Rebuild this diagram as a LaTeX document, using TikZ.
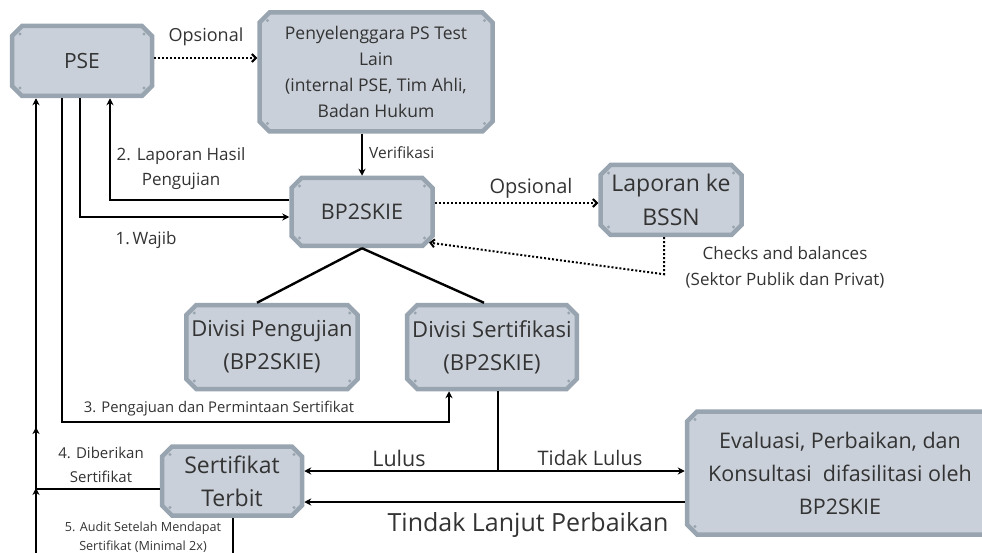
\documentclass[tikz,border=0pt]{standalone}
\usepackage{fontspec}
\setmainfont{Open Sans}
\usepackage{xcolor}
\usetikzlibrary{arrows.meta}
\usetikzlibrary{shapes.misc}
\usetikzlibrary{decorations.markings}

\definecolor{boxfill}{HTML}{C9D0D9}
\definecolor{boxline}{HTML}{98A4B0}
\definecolor{txt}{HTML}{333333}

\newcommand{\fsz}[2]{\fontsize{#1}{#2}\selectfont}

\begin{document}
\begin{tikzpicture}[
        x=1pt, y=-1pt,
        box/.style={chamfered rectangle, chamfered rectangle xsep=5pt,
            chamfered rectangle ysep=5pt, draw=boxline, fill=boxfill,
            line width=4.5pt, inner sep=0pt, align=center, text=txt,
            path picture={
                \fill[boxline] ([shift={(8pt,-8pt)}]path picture bounding box.north west) circle (1.6pt);
                \fill[boxline] ([shift={(-8pt,-8pt)}]path picture bounding box.north east) circle (1.6pt);
                \fill[boxline] ([shift={(8pt,8pt)}]path picture bounding box.south west) circle (1.6pt);
                \fill[boxline] ([shift={(-8pt,8pt)}]path picture bounding box.south east) circle (1.6pt);
            }},
        link/.style={-{Stealth[length=7pt,width=7pt]}, line width=2.4pt},
        optlink/.style={-{Straight Barb[length=4pt,width=8pt,line width=2pt]},
            line width=2pt, dash pattern=on 2pt off 2pt},
        lbl/.style={text=txt, align=center, inner sep=0pt}
    ]
        \clip (0,0) rectangle (982,553);

        % --- Kotak utama ---
        \node[box, minimum width=140, minimum height=70, font=\fsz{21}{26}] (pse) at (82,61) {PSE};
        \node[box, minimum width=233, minimum height=119, font=\fsz{17.5}{26}] (penyel) at (376,72)
            {Penyelenggara PS Test\\Lain\\(internal PSE, Tim Ahli,\\Badan Hukum};
        \node[box, minimum width=141, minimum height=68, font=\fsz{21.5}{26}] (bp) at (362,212) {BP2SKIE};
        \node[box, minimum width=141, minimum height=70, font=\fsz{23}{34}] (bssn) at (671,200) {Laporan ke\\BSSN};

        % --- Divisi ---
        \node[box, minimum width=167, minimum height=84, font=\fsz{22}{33}] (divuji) at (272,347)
            {Divisi Pengujian\\(BP2SKIE)};
        \node[box, minimum width=167, minimum height=84, font=\fsz{22}{33}] (divsert) at (492,347)
            {Divisi Sertifikasi\\(BP2SKIE)};

        % --- Hasil ---
        \node[box, minimum width=140, minimum height=69, font=\fsz{23}{33}] (sert) at (232,481)
            {Sertifikat\\Terbit};
        \node[box, minimum width=306, minimum height=123, font=\fsz{21.5}{33}] (eval) at (840,473)
            {Evaluasi, Perbaikan, dan\\Konsultasi\ \ difasilitasi oleh\\BP2SKIE};

        % --- Alur PSE ---
        \draw[optlink] ([yshift=3pt]pse.east) -- ([yshift=3pt]pse.east -| penyel.west);
        \node[lbl, font=\fsz{18}{20}] (ops1) at (206,37) {Opsional};

        \draw[link] (bp.north |- penyel.south) -- (bp.north);
        \node[lbl, font=\fsz{15.5}{16}, anchor=west] (verif) at (369,153) {Verifikasi};

        \draw[link] ([yshift=12pt]bp.west) -| ([xshift=28pt]pse.south);
        \node[lbl, font=\fsz{17}{25}] (lap) at (181,169) {2. Laporan Hasil\\Pengujian};

        \draw[link] ([xshift=-2pt]pse.south) |- ([yshift=-5pt]bp.west);
        \node[lbl, font=\fsz{17}{18}] (wajib) at (146,240) {1.\,Wajib};

        % --- BP2SKIE ke divisi dan BSSN ---
        \draw[line width=2.4pt] (bp.south) -- ([xshift=-15pt]divuji.north);
        \draw[line width=2.4pt] (bp.south) -- ([xshift=-8pt]divsert.north);

        \draw[optlink] ([yshift=9pt]bp.east) -- ([yshift=9pt]bp.east -| bssn.west);
        \node[lbl, font=\fsz{20}{22}] (ops2) at (531,188) {Opsional};

        \draw[optlink] ([xshift=-7pt]bssn.south) -- ++(0,37) -- (bp.south east);
        \node[lbl, font=\fsz{17}{26}] (cab) at (785,267) {Checks and balances\\(Sektor Publik dan Privat)};

        % --- Pengajuan sertifikat ---
        \coordinate (c3) at ([xshift=-43pt,yshift=-31pt]divsert.south);
        \draw[link] ([xshift=-20pt]pse.south) |- (c3) -- ([xshift=-43pt]divsert.south);
        \node[lbl, font=\fsz{14.8}{16}] (aju) at (219,409) {3. Pengajuan dan Permintaan Sertifikat};

        % --- Lulus / Tidak Lulus ---
        \coordinate (j) at (498,471);
        \draw[line width=2.4pt] ([xshift=6pt]divsert.south) -- (j);
        \draw[link] (j) -- (sert.east |- j);
        \draw[link] (j) -- (eval.west |- j);
        \node[lbl, font=\fsz{21.5}{22}] (lulus) at (399,458) {Lulus};
        \node[lbl, font=\fsz{20}{22}] (tdk) at (590,458) {Tidak Lulus};

        \draw[link] ([yshift=-29pt]eval.west) -- ([yshift=-29pt]eval.west -| sert.east);
        \node[lbl, font=\fsz{25}{26}] (tl) at (528,525) {Tindak Lanjut Perbaikan};

        % --- Sertifikat kembali ke PSE ---
        \coordinate (bot) at (36,553);
        \draw[link, postaction={decorate, decoration={markings,
                mark=at position 0.143 with {\arrow{Stealth[length=7pt,width=7pt]}},
                mark=at position 0.277 with {\arrow{Stealth[length=7pt,width=7pt]}}}}]
            (bot) -- (bot |- pse.south);
        \draw[line width=2.4pt] ([yshift=-8pt]sert.west) -- ([yshift=-8pt]sert.west -| bot);
        \node[lbl, font=\fsz{15}{24}] (diberi) at (101,465) {4. Diberikan\\Sertifikat};

        \draw[line width=2.4pt] ([xshift=1pt]sert.south) -- ([xshift=1pt]sert.south |- bot);
        \node[lbl, font=\fsz{12.6}{19}] (audit) at (143,537) {5. Audit Setelah Mendapat\\Sertifikat (Minimal 2x)};
    \end{tikzpicture}
\end{document}
